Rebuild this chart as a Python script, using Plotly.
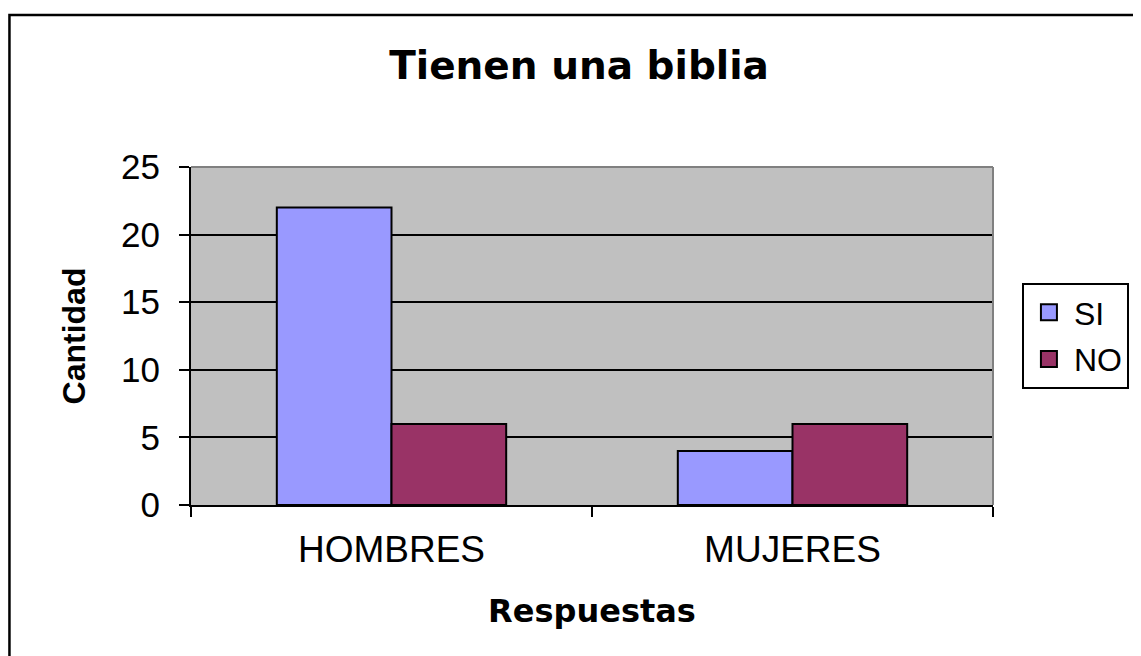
import plotly.graph_objects as go

categories = ["HOMBRES", "MUJERES"]
si_values = [22, 4]
no_values = [6, 6]
y_ticks = [0, 5, 10, 15, 20, 25]
series_names = ["SI", "NO"]
series_colors = ["#9999FF", "#993366"]

# page body has an 8px margin; target plot area in screen pixels: x 191..995, y 167..505
OFF = 8
W, H = 1141 - OFF, 656 - OFF
L, T = 191 - OFF, 167 - OFF
R, B = W - (995 - OFF), H - (505 - OFF)
pw, ph = W - L - R, H - T - B

def px(x):
    return (x - OFF - L) / pw

def py(y):
    return (H - B - (y - OFF)) / ph

fig = go.Figure()
for name, vals, col in zip(series_names, [si_values, no_values], series_colors):
    fig.add_trace(go.Bar(name=name, x=categories, y=vals, showlegend=False,
                         marker=dict(color=col, line=dict(color="black", width=2))))
# legend entries with larger square swatches
for i, (name, col) in enumerate(zip(series_names, series_colors)):
    fig.add_trace(go.Scatter(name=name, x=[None], y=[None], mode="markers",
                             legendgroup=f"g{i}", showlegend=True,
                             marker=dict(symbol="square", size=16, color=col,
                                         line=dict(color="black", width=2))))

fig.update_layout(
    width=W, height=H,
    margin=dict(l=L, r=R, t=T, b=B, pad=0),
    paper_bgcolor="white",
    plot_bgcolor="#C0C0C0",
    barmode="group", bargap=0.428, bargroupgap=0,
    title=dict(text="<b>Tienen una biblia</b>", x=px(580), xref="paper", xanchor="center",
               y=1 - (65 - OFF) / H, yref="container", yanchor="middle",
               font=dict(family="DejaVu Sans", size=39, color="black")),
    legend=dict(x=px(1024), y=py(283), xanchor="left", yanchor="top",
                bordercolor="black", borderwidth=2, bgcolor="white",
                font=dict(family="Liberation Sans, Arial", size=32, color="black"),
                itemwidth=40, tracegroupgap=2, itemsizing="trace"),
    font=dict(family="Liberation Sans, Arial", color="black"),
    showlegend=True,
)

fig.update_xaxes(
    tickson="boundaries", ticks="outside", ticklen=10, tickwidth=2, tickcolor="black",
    showline=True, linecolor="black", linewidth=2, showgrid=False,
    ticklabelstandoff=11,
    tickfont=dict(family="Liberation Sans, Arial", size=37, color="black"),
    title=dict(text="<b>Respuestas</b>", standoff=30,
               font=dict(family="DejaVu Sans", size=32, color="black")),
)
fig.update_yaxes(
    range=[0, 25], tickvals=y_ticks, ticks="outside", ticklen=10, tickwidth=2, tickcolor="black",
    showline=True, linecolor="black", linewidth=2,
    showgrid=True, gridcolor="black", gridwidth=1.5, zeroline=False,
    ticklabelstandoff=12,
    tickfont=dict(family="Liberation Sans, Arial", size=35, color="black"),
    title=dict(text="<b>Cantidad</b>", standoff=26,
               font=dict(family="Liberation Sans, Arial", size=32, color="black")),
)

# plot area border (top and right, gray)
fig.add_shape(type="line", xref="paper", yref="paper", x0=0, x1=1, y0=1, y1=1,
              line=dict(color="#808080", width=2))
fig.add_shape(type="line", xref="paper", yref="paper", x0=1, x1=1, y0=0, y1=1,
              line=dict(color="#808080", width=2))
# outer chart border
fig.add_shape(type="rect", xref="paper", yref="paper",
              x0=px(9), x1=px(1170), y0=py(15), y1=py(690),
              line=dict(color="black", width=2.5), fillcolor="rgba(0,0,0,0)")

fig.write_html("out.html")
